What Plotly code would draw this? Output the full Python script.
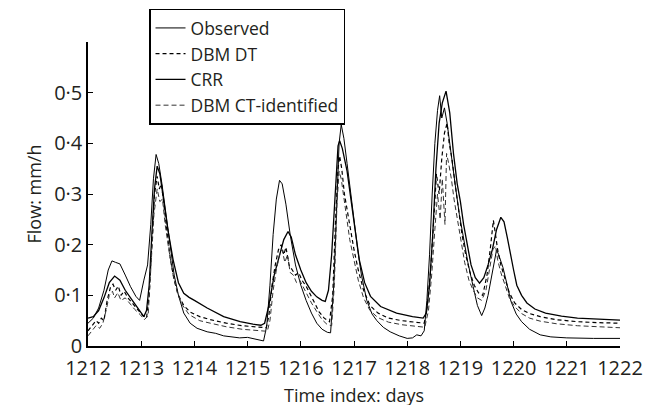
import plotly.graph_objects as go

# Observed flow (mm/h) against time index (days)
obs_t = [1212.0, 1212.1, 1212.2, 1212.3, 1212.38, 1212.45, 1212.52, 1212.6, 1212.7, 1212.8,
         1212.9, 1212.97, 1213.05, 1213.12, 1213.18, 1213.23, 1213.28, 1213.33, 1213.39, 1213.47,
         1213.55, 1213.62, 1213.7, 1213.8, 1213.92, 1214.05, 1214.24, 1214.4, 1214.55, 1214.7,
         1214.85, 1215.0, 1215.15, 1215.3, 1215.36, 1215.42, 1215.48, 1215.54, 1215.6, 1215.65,
         1215.72, 1215.8, 1215.9, 1216.0, 1216.1, 1216.2, 1216.3, 1216.4, 1216.5, 1216.56,
         1216.62, 1216.67, 1216.72, 1216.76, 1216.81, 1216.87, 1216.94, 1217.0, 1217.07, 1217.14,
         1217.24, 1217.34, 1217.43, 1217.55, 1217.68, 1217.85, 1218.0, 1218.1, 1218.18, 1218.26,
         1218.32, 1218.37, 1218.42, 1218.47, 1218.52, 1218.57, 1218.61, 1218.65, 1218.7, 1218.75,
         1218.82, 1218.9, 1218.98, 1219.06, 1219.14, 1219.24, 1219.32, 1219.4, 1219.46, 1219.52,
         1219.58, 1219.64, 1219.68, 1219.72, 1219.8, 1219.88, 1219.95, 1220.05, 1220.15, 1220.3,
         1220.5, 1220.7, 1221.0, 1221.5, 1222.0]
obs_q = [0.045, 0.055, 0.075, 0.11, 0.15, 0.168, 0.165, 0.162, 0.14, 0.117,
         0.098, 0.09, 0.13, 0.16, 0.24, 0.33, 0.378, 0.36, 0.32, 0.26,
         0.20, 0.14, 0.10, 0.065, 0.045, 0.035, 0.028, 0.025, 0.02, 0.018,
         0.016, 0.017, 0.014, 0.01, 0.04, 0.12, 0.22, 0.29, 0.327, 0.32,
         0.28, 0.22, 0.16, 0.12, 0.09, 0.065, 0.045, 0.033, 0.027, 0.026,
         0.12, 0.27, 0.40, 0.437, 0.41, 0.36, 0.30, 0.24, 0.19, 0.14,
         0.09, 0.063, 0.05, 0.037, 0.028, 0.02, 0.015, 0.016, 0.022, 0.02,
         0.03, 0.09, 0.18, 0.30, 0.40, 0.465, 0.494, 0.45, 0.47, 0.44,
         0.38, 0.32, 0.26, 0.21, 0.165, 0.117, 0.08, 0.06, 0.075, 0.10,
         0.135, 0.175, 0.19, 0.18, 0.155, 0.12, 0.088, 0.063, 0.048, 0.033,
         0.022, 0.018, 0.016, 0.015, 0.015]

# Discrete-time DBM model output
dt_t = [1212.0, 1212.08, 1212.15, 1212.2, 1212.25, 1212.3, 1212.36, 1212.42, 1212.47, 1212.52,
        1212.57, 1212.62, 1212.68, 1212.75, 1212.85, 1212.95, 1213.03, 1213.1, 1213.15, 1213.2,
        1213.25, 1213.3, 1213.34, 1213.38, 1213.43, 1213.48, 1213.55, 1213.62, 1213.7, 1213.8,
        1213.92, 1214.1, 1214.3, 1214.6, 1214.9, 1215.2, 1215.35, 1215.4, 1215.46, 1215.52,
        1215.58, 1215.63, 1215.68, 1215.72, 1215.78, 1215.84, 1215.9, 1215.96, 1216.02, 1216.1,
        1216.18, 1216.26, 1216.34, 1216.44, 1216.54, 1216.6, 1216.65, 1216.7, 1216.73, 1216.77,
        1216.82, 1216.87, 1216.93, 1217.0, 1217.08, 1217.18, 1217.3, 1217.45, 1217.65, 1217.9,
        1218.15, 1218.32, 1218.38, 1218.44, 1218.5, 1218.55, 1218.6, 1218.65, 1218.7, 1218.75,
        1218.79, 1218.84, 1218.9, 1218.96, 1219.03, 1219.1, 1219.18, 1219.26, 1219.34, 1219.42,
        1219.5, 1219.56, 1219.62, 1219.66, 1219.7, 1219.76, 1219.84, 1219.92, 1220.02, 1220.15,
        1220.3, 1220.5, 1220.8, 1221.2, 1221.6, 1222.0]
dt_q = [0.03, 0.04, 0.05, 0.045, 0.055, 0.05, 0.09, 0.115, 0.122, 0.11,
        0.118, 0.10, 0.108, 0.095, 0.082, 0.07, 0.06, 0.055, 0.10, 0.20,
        0.30, 0.335, 0.31, 0.32, 0.27, 0.23, 0.17, 0.13, 0.10, 0.08,
        0.067, 0.058, 0.052, 0.045, 0.04, 0.037, 0.036, 0.06, 0.12, 0.16,
        0.19, 0.20, 0.18, 0.195, 0.16, 0.15, 0.14, 0.145, 0.13, 0.118,
        0.10, 0.085, 0.068, 0.055, 0.048, 0.10, 0.24, 0.35, 0.375, 0.35,
        0.30, 0.27, 0.23, 0.19, 0.15, 0.11, 0.08, 0.065, 0.055, 0.05,
        0.047, 0.045, 0.08, 0.15, 0.25, 0.34, 0.30, 0.37, 0.42, 0.44,
        0.40, 0.37, 0.32, 0.27, 0.22, 0.18, 0.145, 0.12, 0.105, 0.10,
        0.14, 0.19, 0.248, 0.22, 0.19, 0.16, 0.13, 0.105, 0.085, 0.072,
        0.064, 0.058, 0.052, 0.048, 0.046, 0.045]

# Conceptual rainfall-runoff model output
crr_t = [1212.0, 1212.1, 1212.2, 1212.3, 1212.4, 1212.5, 1212.6, 1212.7, 1212.8, 1212.9,
         1213.0, 1213.05, 1213.1, 1213.15, 1213.2, 1213.25, 1213.3, 1213.35, 1213.42, 1213.5,
         1213.6, 1213.7, 1213.8, 1213.9, 1214.0, 1214.24, 1214.55, 1214.86, 1215.1, 1215.25,
         1215.32, 1215.4, 1215.5, 1215.6, 1215.68, 1215.76, 1215.82, 1215.9, 1216.0, 1216.1,
         1216.2, 1216.3, 1216.4, 1216.46, 1216.52, 1216.58, 1216.64, 1216.7, 1216.73, 1216.78,
         1216.87, 1216.95, 1217.02, 1217.1, 1217.2, 1217.31, 1217.5, 1217.8, 1218.1, 1218.3,
         1218.36, 1218.42, 1218.48, 1218.54, 1218.6, 1218.66, 1218.73, 1218.8, 1218.87, 1218.94,
         1219.0, 1219.06, 1219.12, 1219.2, 1219.28, 1219.36, 1219.44, 1219.52, 1219.6, 1219.68,
         1219.76, 1219.82, 1219.88, 1219.94, 1220.0, 1220.06, 1220.15, 1220.25, 1220.4, 1220.6,
         1220.9, 1221.2, 1221.6, 1222.0]
crr_q = [0.055, 0.058, 0.07, 0.095, 0.125, 0.138, 0.13, 0.11, 0.095, 0.08,
         0.063, 0.058, 0.07, 0.12, 0.22, 0.31, 0.355, 0.34, 0.29, 0.23,
         0.17, 0.125, 0.104, 0.096, 0.09, 0.075, 0.058, 0.048, 0.043, 0.041,
         0.045, 0.08, 0.14, 0.18, 0.21, 0.226, 0.215, 0.18, 0.15, 0.125,
         0.108, 0.097, 0.09, 0.088, 0.11, 0.18, 0.30, 0.395, 0.405, 0.39,
         0.345, 0.28, 0.23, 0.17, 0.125, 0.098, 0.078, 0.065, 0.058, 0.055,
         0.065, 0.12, 0.22, 0.35, 0.44, 0.48, 0.503, 0.46, 0.38, 0.32,
         0.285, 0.24, 0.205, 0.16, 0.135, 0.124, 0.135, 0.16, 0.19, 0.23,
         0.254, 0.245, 0.215, 0.18, 0.15, 0.12, 0.10, 0.085, 0.073, 0.065,
         0.059, 0.055, 0.053, 0.051]

# Continuous-time identified DBM model output
ct_t = [1212.0, 1212.08, 1212.15, 1212.22, 1212.28, 1212.34, 1212.4, 1212.46, 1212.5, 1212.56,
        1212.62, 1212.7, 1212.78, 1212.88, 1212.98, 1213.06, 1213.13, 1213.18, 1213.24, 1213.3,
        1213.35, 1213.4, 1213.45, 1213.52, 1213.6, 1213.68, 1213.78, 1213.9, 1214.1, 1214.3,
        1214.6, 1214.9, 1215.2, 1215.37, 1215.42, 1215.48, 1215.54, 1215.6, 1215.65, 1215.7,
        1215.75, 1215.8, 1215.86, 1215.92, 1215.98, 1216.05, 1216.12, 1216.2, 1216.3, 1216.4,
        1216.5, 1216.58, 1216.63, 1216.68, 1216.72, 1216.76, 1216.8, 1216.86, 1216.92, 1217.0,
        1217.08, 1217.18, 1217.3, 1217.45, 1217.65, 1217.9, 1218.15, 1218.33, 1218.4, 1218.46,
        1218.52, 1218.57, 1218.62, 1218.66, 1218.71, 1218.74, 1218.78, 1218.83, 1218.88, 1218.94,
        1219.0, 1219.08, 1219.16, 1219.24, 1219.32, 1219.4, 1219.48, 1219.55, 1219.61, 1219.66,
        1219.7, 1219.76, 1219.84, 1219.92, 1220.02, 1220.15, 1220.3, 1220.5, 1220.8, 1221.2,
        1221.6, 1222.0]
ct_q = [0.02, 0.03, 0.04, 0.035, 0.045, 0.07, 0.10, 0.108, 0.095, 0.105,
        0.09, 0.095, 0.085, 0.072, 0.062, 0.052, 0.06, 0.15, 0.26, 0.31,
        0.285, 0.29, 0.24, 0.19, 0.14, 0.105, 0.08, 0.062, 0.05, 0.045,
        0.038, 0.033, 0.03, 0.029, 0.05, 0.11, 0.15, 0.18, 0.19, 0.165,
        0.18, 0.145, 0.14, 0.125, 0.13, 0.115, 0.10, 0.085, 0.068, 0.052,
        0.042, 0.04, 0.12, 0.28, 0.345, 0.33, 0.30, 0.25, 0.21, 0.17,
        0.13, 0.095, 0.07, 0.056, 0.047, 0.042, 0.039, 0.037, 0.07, 0.14,
        0.23, 0.30, 0.25, 0.33, 0.24, 0.38, 0.36, 0.33, 0.29, 0.25,
        0.21, 0.165, 0.13, 0.11, 0.095, 0.09, 0.11, 0.15, 0.19, 0.198,
        0.17, 0.145, 0.118, 0.095, 0.078, 0.064, 0.055, 0.049, 0.044, 0.04,
        0.038, 0.036]

x_ticks = [1212, 1213, 1214, 1215, 1216, 1217, 1218, 1219, 1220, 1221, 1222]
y_ticks = [0, 0.1, 0.2, 0.3, 0.4, 0.5]
y_tick_text = ["0", "0·1", "0·2", "0·3", "0·4", "0·5"]

FONT = "Open Sans, Noto Sans, sans-serif"

fig = go.Figure()
fig.add_trace(go.Scatter(x=obs_t, y=obs_q, mode="lines", name="Observed",
                         line=dict(color="black", width=1.0)))
fig.add_trace(go.Scatter(x=dt_t, y=dt_q, mode="lines", name="DBM DT",
                         line=dict(color="black", width=1.2, dash="4px,3px")))
fig.add_trace(go.Scatter(x=crr_t, y=crr_q, mode="lines", name="CRR",
                         line=dict(color="black", width=1.3)))
fig.add_trace(go.Scatter(x=ct_t, y=ct_q, mode="lines", name="DBM CT-identified",
                         line=dict(color="#333333", width=1.0, dash="5px,3px")))

fig.update_layout(
    width=657, height=405,
    margin=dict(l=88, r=37, t=42, b=59, autoexpand=False),
    paper_bgcolor="white", plot_bgcolor="white",
    font=dict(family=FONT, color="#231f20", size=19),
    showlegend=True,
    legend=dict(
        x=0.1147, y=1.11, xanchor="left", yanchor="top",
        bgcolor="white", bordercolor="black", borderwidth=1.5,
        font=dict(size=17.5, family=FONT, color="#231f20"),
        tracegroupgap=0, itemwidth=30,
    ),
)
# x-axis title placed below the tick labels
fig.add_annotation(
    text="Time index: days", xref="paper", yref="paper", x=0.5, y=-0.162,
    xanchor="center", yanchor="middle", showarrow=False,
    font=dict(size=18, family=FONT, color="#231f20"),
)
fig.update_xaxes(
    range=[1212, 1222], tickvals=x_ticks, ticktext=[str(v) for v in x_ticks],
    ticks="inside", ticklen=5, tickcolor="black", tickwidth=1,
    showline=True, linecolor="black", linewidth=1.5, showgrid=False, zeroline=False,
    tickfont=dict(size=20), ticklabelstandoff=3,
)
fig.update_yaxes(
    range=[0, 0.6], tickvals=y_ticks, ticktext=y_tick_text,
    ticks="inside", ticklen=5, tickcolor="black", tickwidth=1,
    showline=True, linecolor="black", linewidth=1.5, showgrid=False, zeroline=False,
    tickfont=dict(size=20), automargin=True,
    title=dict(text="Flow: mm/h", font=dict(size=18), standoff=8),
)

fig.write_html("out.html")
